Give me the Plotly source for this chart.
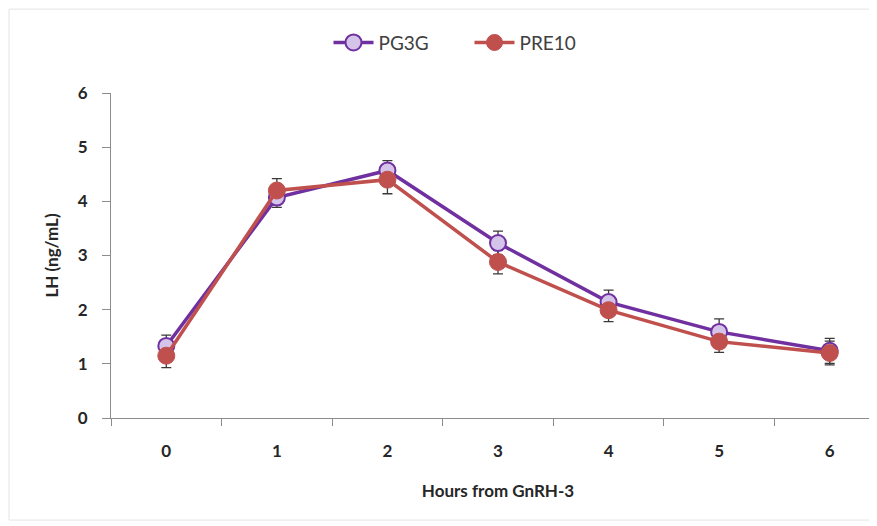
import plotly.graph_objects as go

hours = [0, 1, 2, 3, 4, 5, 6]
hour_labels = ["0", "1", "2", "3", "4", "5", "6"]
pg3g = [1.33, 4.07, 4.57, 3.23, 2.14, 1.59, 1.24]
pg3g_err = [0.20, 0.18, 0.18, 0.22, 0.22, 0.24, 0.23]
pre10 = [1.15, 4.20, 4.40, 2.88, 1.99, 1.41, 1.20]
pre10_err = [0.22, 0.22, 0.26, 0.22, 0.21, 0.20, 0.22]
y_ticks = [0, 1, 2, 3, 4, 5, 6]

PURPLE = "#7030A0"
RED = "#C0504D"
ERR = "#3a3a3a"
FONT = "Lato, 'Open Sans', sans-serif"

fig = go.Figure()

# error bars first (beneath all markers)
for vals, errs in [(pg3g, pg3g_err), (pre10, pre10_err)]:
    fig.add_trace(go.Scatter(
        x=hours, y=vals, mode="markers", showlegend=False, hoverinfo="skip",
        marker=dict(size=2, opacity=0),
        error_y=dict(type="data", array=errs, visible=True, color=ERR,
                     thickness=1.3, width=5),
    ))

fig.add_trace(go.Scatter(
    x=hours, y=pg3g, mode="lines+markers", name="PG3G",
    line=dict(color=PURPLE, width=3.5),
    marker=dict(size=16, color="#D5C4EA", line=dict(color=PURPLE, width=2)),
))
fig.add_trace(go.Scatter(
    x=hours, y=pre10, mode="lines+markers", name="PRE10",
    line=dict(color=RED, width=3.5),
    marker=dict(size=17, color=RED, line=dict(color=RED, width=1)),
))

fig.update_layout(
    width=877, height=526,
    margin=dict(l=103, r=0, t=85, b=116),
    paper_bgcolor="white", plot_bgcolor="white",
    font=dict(family=FONT, color="#262626"),
    showlegend=True,
    legend=dict(orientation="h", x=0.281, y=1.155, xanchor="left", yanchor="middle",
                font=dict(size=19, color="#404040"), itemwidth=40, entrywidth=86,
                bgcolor="rgba(0,0,0,0)"),
    xaxis=dict(
        range=[-0.5, 6.5], tickmode="array", tickvals=hours, ticktext=hour_labels,
        ticks="", showgrid=False, zeroline=False,
        showline=True, linecolor="#8c8c8c", linewidth=1,
        tickfont=dict(size=17, family=FONT, color="#262626", weight="bold"),
        ticklabelstandoff=18,
        minor=dict(tickmode="linear", tick0=-0.5, dtick=1, ticks="outside",
                   ticklen=7, tickcolor="#8c8c8c", tickwidth=1, showgrid=False),
        title=dict(text="Hours from GnRH-3", standoff=24,
                   font=dict(size=17, family=FONT, color="#262626", weight="bold")),
    ),
    yaxis=dict(
        range=[0, 6], tickmode="array", tickvals=y_ticks,
        ticks="outside", ticklen=8, tickcolor="#8c8c8c", tickwidth=1,
        showgrid=False, zeroline=False,
        showline=True, linecolor="#8c8c8c", linewidth=1,
        tickfont=dict(size=17, family=FONT, color="#262626", weight="bold"),
        ticklabelstandoff=11,
        title=dict(text="LH (ng/mL)", standoff=14,
                   font=dict(size=17, family=FONT, color="#262626", weight="bold")),
    ),
    shapes=[dict(type="rect", xref="paper", yref="paper",
                 x0=-0.1318, x1=1.2, y0=-0.314, y1=1.258,
                 line=dict(color="#e4e4e4", width=1), fillcolor="rgba(0,0,0,0)",
                 layer="below")],
)

fig.write_html("out.html")
